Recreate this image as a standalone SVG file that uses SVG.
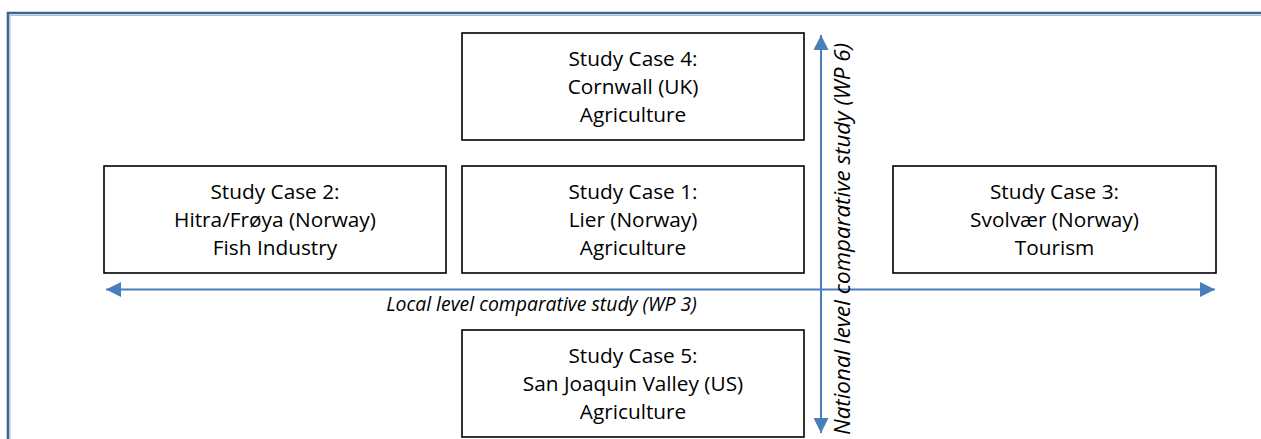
<svg xmlns="http://www.w3.org/2000/svg" width="1261" height="439" viewBox="0 0 1261 439">
<style>
.box{fill:#fff;stroke:#000;stroke-width:1.6}
.t{font-family:"Open Sans","Liberation Sans",sans-serif;font-size:20.8px;fill:#000;text-anchor:middle}
.lbl{font-family:"Open Sans","Liberation Sans",sans-serif;font-size:19.4px;font-style:italic;fill:#000;text-anchor:middle}
.lblv{font-family:"Open Sans","Liberation Sans",sans-serif;font-size:22.4px;font-style:italic;fill:#000;text-anchor:middle}
.ax{stroke:#4a7ebb;stroke-width:2;fill:none}
</style>
<defs>
<marker id="ah" viewBox="0 0 10 10" refX="10" refY="5" markerWidth="15" markerHeight="15" markerUnits="userSpaceOnUse" orient="auto-start-reverse">
<path d="M0,0 L10,5 L0,10 z" fill="#4a7ebb"/>
</marker>
</defs>
<rect width="1261" height="439" fill="#fff"/>
<g id="frame">
<path d="M8,450 V13 H1270" fill="none" stroke="#3d6594" stroke-width="2.6"/>
<path d="M10,450 V15.5 H1270" fill="none" stroke="#a9bcd6" stroke-width="1"/>
</g>
<g id="connectors">
<line class="ax" x1="106" y1="289.5" x2="1215" y2="289.5" marker-start="url(#ah)" marker-end="url(#ah)"/>
<line class="ax" x1="821" y1="35" x2="821" y2="433" marker-start="url(#ah)" marker-end="url(#ah)"/>
<text class="lbl" x="541.5" y="310.5">Local level comparative study (WP 3)</text>
<text class="lblv" transform="translate(850,239) rotate(-90)">National level comparative study (WP 6)</text>
</g>
<g id="case4">
<rect class="box" x="462" y="33" width="342" height="107"/>
<text class="t" x="633" y="66">Study Case 4:</text>
<text class="t" x="633" y="94">Cornwall (UK)</text>
<text class="t" x="633" y="122">Agriculture</text>
</g>
<g id="case2">
<rect class="box" x="104" y="166" width="342" height="107"/>
<text class="t" x="275" y="199">Study Case 2:</text>
<text class="t" x="275" y="227">Hitra/Frøya (Norway)</text>
<text class="t" x="275" y="255">Fish Industry</text>
</g>
<g id="case1">
<rect class="box" x="462" y="166" width="342" height="107"/>
<text class="t" x="633" y="199">Study Case 1:</text>
<text class="t" x="633" y="227">Lier (Norway)</text>
<text class="t" x="633" y="255">Agriculture</text>
</g>
<g id="case3">
<rect class="box" x="893" y="166" width="323" height="107"/>
<text class="t" x="1054.5" y="199">Study Case 3:</text>
<text class="t" x="1054.5" y="227">Svolvær (Norway)</text>
<text class="t" x="1054.5" y="255">Tourism</text>
</g>
<g id="case5">
<rect class="box" x="462" y="330" width="342" height="107"/>
<text class="t" x="633" y="363">Study Case 5:</text>
<text class="t" x="633" y="391">San Joaquin Valley (US)</text>
<text class="t" x="633" y="419">Agriculture</text>
</g>
</svg>
